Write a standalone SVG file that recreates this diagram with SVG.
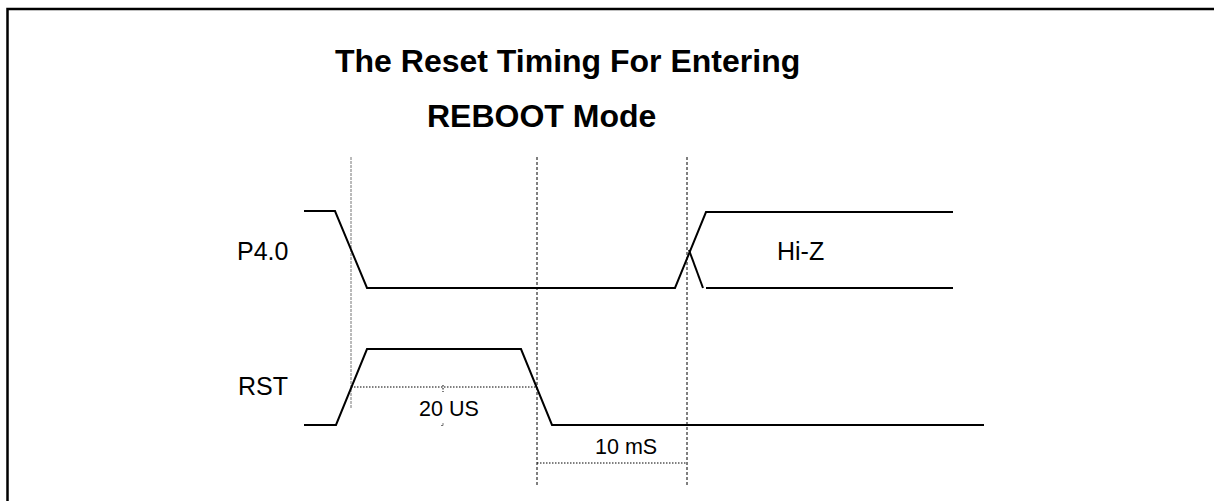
<svg xmlns="http://www.w3.org/2000/svg" width="1214" height="501" viewBox="0 0 1214 501">
<style>
.frame{fill:none;stroke:#000;stroke-width:2.5}
.wave{fill:none;stroke:#000;stroke-width:2;stroke-linejoin:miter}
.guide{fill:none;stroke:#000;stroke-width:1;stroke-dasharray:3,2}
.guide-l{fill:none;stroke:#777;stroke-width:1;stroke-dasharray:3,1}
.dim{fill:none;stroke:#000;stroke-width:1;stroke-dasharray:1.5,1.5}
.title{font-family:"Liberation Sans",Arial,sans-serif;font-weight:bold;font-size:32px;fill:#000}
.label{font-family:"Liberation Sans",Arial,sans-serif;font-size:25px;fill:#000}
.small{font-family:"Liberation Sans",Arial,sans-serif;font-size:21.5px;fill:#000}
</style>
<rect width="1214" height="501" fill="#fff"/>
<path class="frame" d="M7.5,501 V9 H1214"/>
<g id="title">
<text class="title" x="335" y="72">The Reset Timing For Entering</text>
<text class="title" x="427" y="127">REBOOT Mode</text>
</g>
<g id="guides">
<line class="guide-l" x1="351" y1="157" x2="351" y2="409"/>
<line class="guide" x1="537" y1="157" x2="537" y2="485"/>
<line class="guide" x1="687" y1="157" x2="687" y2="485"/>
</g>
<g id="p40">
<text class="label" x="237" y="260">P4.0</text>
<path class="wave" d="M304,211 H335 L367,288 H675 L706,212 H953"/>
<path class="wave" d="M689,250 L703,288"/>
<path class="wave" d="M706,288 H953"/>
<text class="label" x="777" y="260">Hi-Z</text>
</g>
<g id="rst">
<text class="label" x="238" y="395">RST</text>
<path class="wave" d="M304,425 H336 L367,349 H521 L552,425 H984"/>
</g>
<g id="dim20">
<line class="dim" x1="351" y1="387" x2="537" y2="387"/>
<line class="dim" x1="443" y1="385" x2="443" y2="392"/>
<path d="M441,425.5 H443 V423" fill="none" stroke="#555" stroke-width="0.8"/>
<text class="small" x="419" y="416">20 US</text>
</g>
<g id="dim10">
<line class="dim" x1="537" y1="463" x2="687" y2="463"/>
<text class="small" x="595" y="454">10 mS</text>
</g>
</svg>
